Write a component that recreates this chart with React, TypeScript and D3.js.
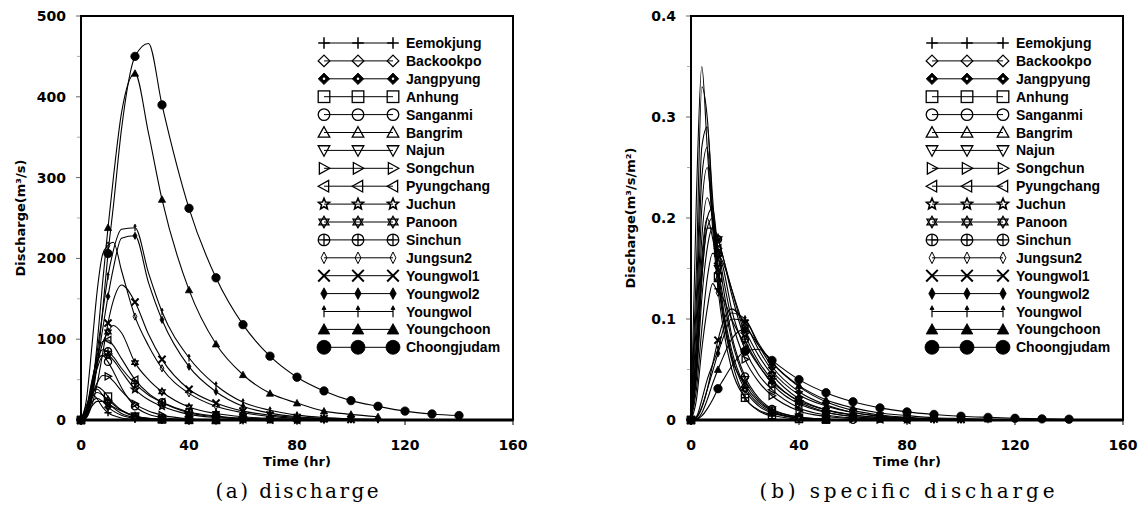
import React, { useEffect, useRef } from "react";
import * as d3 from "d3";

// time grid (hr) shared by every series; a series stops where its array stops
const hours = [0, 2, 4, 6, 8, 10, 12, 15, 20, 25, 30, 40, 50, 60, 70, 80, 90, 100, 110, 120, 130, 140];

const stations = [
  "Eemokjung", "Backookpo", "Jangpyung", "Anhung", "Sanganmi", "Bangrim",
  "Najun", "Songchun", "Pyungchang", "Juchun", "Panoon", "Sinchun",
  "Jungsun2", "Youngwol1", "Youngwol2", "Youngwol", "Youngchoon", "Choongjudam",
];

const markerTypes = [
  "plus", "diamond", "diamondDot", "square", "circle", "triUp",
  "triDown", "triRight", "triLeft", "star5", "star6", "circlePlus",
  "thinDiamond", "cross", "thinDiamondFilled", "arrow", "triUpFilled", "circleFilled",
];

// (a) discharge, m3/s
const qEemokjung = [0, 18, 32, 26, 16, 9, 5.5, 2.5, 0.8, 0.3, 0.1];
const qBackookpo = [0, 14, 32, 38, 31, 22, 15, 8, 3, 1.2, 0.5, 0.1, 0];
const qJangpyung = [0, 9, 22, 27, 23, 16, 11, 6, 2, 0.8, 0.3, 0.05];
const qAnhung = [0, 10, 30, 41, 37, 29, 21, 12, 4, 1.5, 0.6, 0.1, 0];
const qSanganmi = [0, 14, 48, 74, 80, 72, 60, 40, 17, 7, 3, 0.6, 0.1];
const qBangrim = [0, 10, 27, 34, 31, 25, 19, 12, 5, 2, 0.8, 0.1, 0];
const qNajun = [0, 6, 17, 23, 23, 20, 16, 11, 5, 2.2, 1, 0.2, 0.05, 0];
const qSongchun = [0, 8, 29, 46, 55, 54, 48, 36, 20, 11, 6, 1.6, 0.5, 0.1];
const qPyungchang = [0, 12, 45, 80, 97, 99, 92, 76, 50, 33, 22, 9, 4, 1.5, 0.6, 0.2];
const qJuchun = [0, 10, 38, 64, 79, 80, 74, 60, 38, 25, 17, 7, 3, 1.2, 0.5, 0.2];
const qPanoon = [0, 8, 35, 68, 95, 109, 117, 108, 71, 50, 35, 16, 8, 4, 2, 1, 0.4];
const qSinchun = [0, 12, 45, 74, 87, 85, 78, 64, 45, 31, 22, 10, 5, 2.3, 1, 0.5];
const qJungsun2 = [0, 25, 90, 160, 205, 216, 220, 185, 128, 92, 64, 33, 17, 9, 4.5, 2.2, 1.1, 0.5];
const qYoungwol1 = [0, 3, 18, 45, 82, 120, 148, 167, 146, 106, 75, 38, 21, 11, 6, 3, 1.6, 0.8];
const qYoungwol2 = [0, 5, 30, 70, 112, 153, 188, 225, 228, 170, 124, 66, 35, 17, 8.5, 4, 2, 1, 0.5];
const qYoungwol = [0, 6, 38, 85, 132, 178, 210, 236, 238, 182, 134, 77, 43, 22, 12, 6, 3, 1.5, 0.8];
const qYoungchoon = [0, 5, 35, 95, 170, 238, 300, 380, 429, 355, 273, 161, 94, 56, 33, 21, 11, 7, 4];
const qChoongjudam = [0, 3, 25, 70, 135, 206, 265, 360, 450, 466, 390, 262, 176, 118, 79, 53, 36, 24, 17, 11, 7.5, 5.5];

// (b) specific discharge
const sEemokjung = [0, 0.22, 0.35, 0.27, 0.19, 0.13, 0.09, 0.051, 0.022, 0.009, 0.004];
const sBackookpo = [0, 0.15, 0.33, 0.3, 0.22, 0.155, 0.11, 0.07, 0.033, 0.016, 0.008, 0.002, 0.0005];
const sJangpyung = [0, 0.12, 0.27, 0.29, 0.21, 0.146, 0.105, 0.065, 0.03, 0.014, 0.007, 0.002, 0.0004];
const sAnhung = [0, 0.1, 0.24, 0.27, 0.2, 0.142, 0.1, 0.06, 0.022, 0.01, 0.005, 0.001, 0.0003];
const sSanganmi = [0, 0.07, 0.18, 0.22, 0.2, 0.164, 0.13, 0.085, 0.043, 0.022, 0.011, 0.003, 0.001, 0.0003];
const sBangrim = [0, 0.08, 0.21, 0.25, 0.2, 0.14, 0.1, 0.062, 0.035, 0.018, 0.009, 0.002, 0.0005];
const sNajun = [0, 0.06, 0.16, 0.2, 0.18, 0.15, 0.12, 0.08, 0.04, 0.02, 0.01, 0.003, 0.001];
const sSongchun = [0, 0.05, 0.14, 0.19, 0.2, 0.17, 0.14, 0.1, 0.06, 0.038, 0.024, 0.009, 0.0035, 0.0013, 0.0005];
const sPyungchang = [0, 0.05, 0.15, 0.2, 0.21, 0.17, 0.15, 0.11, 0.07, 0.045, 0.03, 0.012, 0.005, 0.002, 0.0008, 0.0003];
const sJuchun = [0, 0.04, 0.12, 0.17, 0.19, 0.18, 0.16, 0.13, 0.085, 0.058, 0.04, 0.018, 0.008, 0.0035, 0.0015, 0.0006];
const sPanoon = [0, 0.03, 0.09, 0.14, 0.165, 0.164, 0.155, 0.13, 0.09, 0.064, 0.045, 0.021, 0.01, 0.005, 0.0025, 0.0012, 0.0006];
const sSinchun = [0, 0.05, 0.14, 0.19, 0.19, 0.179, 0.16, 0.125, 0.08, 0.055, 0.036, 0.016, 0.0075, 0.0035, 0.0016, 0.0008];
const sJungsun2 = [0, 0.02, 0.07, 0.11, 0.135, 0.126, 0.12, 0.1, 0.075, 0.054, 0.038, 0.019, 0.01, 0.005, 0.0025, 0.0013, 0.0006, 0.0003];
const sYoungwol1 = [0, 0.002, 0.012, 0.03, 0.055, 0.079, 0.098, 0.11, 0.096, 0.07, 0.049, 0.025, 0.014, 0.0075, 0.004, 0.002, 0.001, 0.0005];
const sYoungwol2 = [0, 0.003, 0.013, 0.03, 0.048, 0.066, 0.082, 0.1, 0.098, 0.074, 0.053, 0.028, 0.015, 0.0074, 0.0036, 0.0017, 0.0009, 0.0004];
const sYoungwol = [0, 0.003, 0.02, 0.04, 0.055, 0.07, 0.09, 0.106, 0.1, 0.076, 0.057, 0.033, 0.018, 0.0095, 0.005, 0.0026, 0.0013, 0.0006, 0.0003];
const sYoungchoon = [0, 0.001, 0.007, 0.02, 0.036, 0.05, 0.063, 0.08, 0.09, 0.074, 0.057, 0.034, 0.02, 0.012, 0.007, 0.0044, 0.0023, 0.0015, 0.0008];
const sChoongjudam = [0, 0.0005, 0.004, 0.011, 0.02, 0.031, 0.04, 0.053, 0.068, 0.07, 0.059, 0.04, 0.027, 0.018, 0.012, 0.008, 0.0055, 0.0037, 0.0026, 0.0017, 0.0011, 0.0008];

const dischargeSeries = [
  qEemokjung, qBackookpo, qJangpyung, qAnhung, qSanganmi, qBangrim, qNajun, qSongchun, qPyungchang,
  qJuchun, qPanoon, qSinchun, qJungsun2, qYoungwol1, qYoungwol2, qYoungwol, qYoungchoon, qChoongjudam,
];
const specificSeries = [
  sEemokjung, sBackookpo, sJangpyung, sAnhung, sSanganmi, sBangrim, sNajun, sSongchun, sPyungchang,
  sJuchun, sPanoon, sSinchun, sJungsun2, sYoungwol1, sYoungwol2, sYoungwol, sYoungchoon, sChoongjudam,
];

const xTicks = [0, 40, 80, 120, 160];
const dischargeTicks = [0, 100, 200, 300, 400, 500];
const specificTicks = [0, 0.1, 0.2, 0.3, 0.4];

const FONT = "'DejaVu Sans', Arial, sans-serif";
const LEGEND_FONT = "'Liberation Sans', Arial, sans-serif";

// draw one marker symbol centred at (x, y), r = half size
function drawMarker(parent, type, x, y, r) {
  const m = parent.append("g").attr("transform", `translate(${x},${y})`);
  const open = (s) => s.attr("fill", "none").attr("stroke", "#000").attr("stroke-width", 1.3);
  const solid = (s) => s.attr("fill", "#000").attr("stroke", "#000").attr("stroke-width", 0.8);
  const poly = (pts) => "M" + pts.map((p) => p.join(",")).join("L") + "Z";

  switch (type) {
    case "plus":
      m.append("path").attr("d", `M${-r},0H${r}M0,${-r}V${r}`).attr("stroke", "#000").attr("stroke-width", 1.5);
      break;
    case "diamond":
      open(m.append("path").attr("d", poly([[0, -r], [r, 0], [0, r], [-r, 0]])));
      break;
    case "diamondDot":
      solid(m.append("path").attr("d", poly([[0, -r], [r, 0], [0, r], [-r, 0]])));
      m.append("circle").attr("r", r * 0.22).attr("fill", "#fff");
      break;
    case "square":
      open(m.append("rect").attr("x", -r).attr("y", -r).attr("width", 2 * r).attr("height", 2 * r));
      break;
    case "circle":
      open(m.append("circle").attr("r", r));
      break;
    case "triUp":
      open(m.append("path").attr("d", poly([[0, -r], [r, r * 0.8], [-r, r * 0.8]])));
      break;
    case "triDown":
      open(m.append("path").attr("d", poly([[0, r], [r, -r * 0.8], [-r, -r * 0.8]])));
      break;
    case "triRight":
      open(m.append("path").attr("d", poly([[r, 0], [-r * 0.8, -r], [-r * 0.8, r]])));
      break;
    case "triLeft":
      open(m.append("path").attr("d", poly([[-r, 0], [r * 0.8, -r], [r * 0.8, r]])));
      break;
    case "star5": {
      const pts = d3.range(10).map((i) => {
        const a = -Math.PI / 2 + (i * Math.PI) / 5;
        const rr = i % 2 === 0 ? r : r * 0.45;
        return [rr * Math.cos(a), rr * Math.sin(a)];
      });
      open(m.append("path").attr("d", poly(pts))).attr("stroke-width", 1.6);
      break;
    }
    case "star6": {
      const tri = (off) =>
        d3.range(3).map((i) => {
          const a = off + (i * 2 * Math.PI) / 3;
          return [r * Math.cos(a), r * Math.sin(a)];
        });
      open(m.append("path").attr("d", poly(tri(-Math.PI / 2)) + poly(tri(Math.PI / 2))));
      break;
    }
    case "circlePlus":
      open(m.append("circle").attr("r", r));
      m.append("path").attr("d", `M${-r},0H${r}M0,${-r}V${r}`).attr("stroke", "#000").attr("stroke-width", 1.3);
      break;
    case "thinDiamond":
      open(m.append("path").attr("d", poly([[0, -r], [r * 0.5, 0], [0, r], [-r * 0.5, 0]]))).attr("stroke-width", 1);
      break;
    case "cross":
      m.append("path").attr("d", `M${-r},${-r}L${r},${r}M${-r},${r}L${r},${-r}`).attr("stroke", "#000").attr("stroke-width", 2);
      break;
    case "thinDiamondFilled":
      solid(m.append("path").attr("d", poly([[0, -r], [r * 0.55, 0], [0, r], [-r * 0.55, 0]])));
      break;
    case "arrow":
      m.append("path").attr("d", `M0,${r}V${-r * 0.6}`).attr("stroke", "#000").attr("stroke-width", 1.2);
      solid(m.append("path").attr("d", poly([[0, -r], [r * 0.35, -r * 0.35], [-r * 0.35, -r * 0.35]])));
      break;
    case "triUpFilled":
      solid(m.append("path").attr("d", poly([[0, -r], [r, r * 0.8], [-r, r * 0.8]])));
      break;
    case "circleFilled":
      solid(m.append("circle").attr("r", r));
      break;
    default:
      break;
  }
}

const drawPanel = (svg, opt) => {
  const { left, right, top, bottom, yMax, yTicks, yFormat, series, yLabel, legendX, textX, caption, captionLen } = opt;

  const x = d3.scaleLinear().domain([0, 160]).range([left, right]);
  const y = d3.scaleLinear().domain([0, yMax]).range([bottom, top]);
  const g = svg.append("g");

  // minor + major y ticks
  const step = yTicks[1] - yTicks[0];
  yTicks.slice(0, -1).forEach((t) => {
    g.append("line").attr("x1", left - 4).attr("x2", left).attr("y1", y(t + step / 2)).attr("y2", y(t + step / 2))
      .attr("stroke", "#aaa").attr("stroke-width", 1);
  });
  yTicks.forEach((t) => {
    g.append("line").attr("x1", left - 5).attr("x2", left).attr("y1", y(t)).attr("y2", y(t))
      .attr("stroke", "#666").attr("stroke-width", 1);
    g.append("text").attr("x", left - 15).attr("y", y(t) + 5).attr("text-anchor", "end")
      .style("font-family", FONT).style("font-weight", "bold").style("font-size", "14px")
      .text(yFormat(t));
  });
  xTicks.forEach((t) => {
    g.append("line").attr("x1", x(t)).attr("x2", x(t)).attr("y1", bottom).attr("y2", bottom + 5)
      .attr("stroke", "#000").attr("stroke-width", 1);
    g.append("text").attr("x", x(t)).attr("y", bottom + 30).attr("text-anchor", "middle")
      .style("font-family", FONT).style("font-weight", "bold").style("font-size", "14px")
      .text(t);
  });

  // curves
  const line = d3.line().x((d) => x(d[0])).y((d) => y(d[1])).curve(d3.curveMonotoneX);
  series.forEach((vals) => {
    const pts = vals.map((v, i) => [hours[i], v]);
    g.append("path").attr("d", line(pts)).attr("fill", "none").attr("stroke", "#000").attr("stroke-width", 1.1);
  });
  series.forEach((vals, k) => {
    vals.forEach((v, i) => {
      if (hours[i] % 10 !== 0) return;
      drawMarker(g, markerTypes[k], x(hours[i]), y(v), markerTypes[k] === "circleFilled" ? 4.2 : 3.6);
    });
  });

  // frame
  g.append("rect").attr("x", left).attr("y", top).attr("width", right - left).attr("height", bottom - top)
    .attr("fill", "none").attr("stroke", "#000").attr("stroke-width", 2);
  g.append("line").attr("x1", left).attr("x2", right).attr("y1", bottom).attr("y2", bottom)
    .attr("stroke", "#000").attr("stroke-width", 3);

  // legend
  stations.forEach((name, i) => {
    const ly = 43 + i * 17.9;
    g.append("line").attr("x1", legendX[0]).attr("x2", legendX[2]).attr("y1", ly).attr("y2", ly)
      .attr("stroke", "#000").attr("stroke-width", 1);
    legendX.forEach((lx) => drawMarker(g, markerTypes[i], lx, ly, markerTypes[i] === "circleFilled" ? 7 : 5.8));
    g.append("text").attr("x", textX).attr("y", ly + 5)
      .style("font-family", LEGEND_FONT).style("font-weight", "bold").style("font-size", "14px")
      .text(name);
  });

  // axis titles
  g.append("text").attr("x", (left + right) / 2).attr("y", bottom + 46).attr("text-anchor", "middle")
    .style("font-family", FONT).style("font-weight", "bold").style("font-size", "13px")
    .text("Time (hr)");
  g.append("text").attr("transform", `translate(${left - 56},${(top + bottom) / 2}) rotate(-90)`)
    .attr("text-anchor", "middle")
    .style("font-family", FONT).style("font-weight", "bold").style("font-size", "13px")
    .text(yLabel);

  g.append("text").attr("x", (left + right) / 2).attr("y", 498).attr("text-anchor", "middle")
    .attr("textLength", captionLen).attr("lengthAdjust", "spacing")
    .style("font-family", "'DejaVu Serif', serif").style("font-size", "20px")
    .text(caption);
};

const App = () => {
  const svgRef = useRef(null);

  useEffect(() => {
    const svg = d3.select(svgRef.current);
    svg.selectAll("*").remove();

    drawPanel(svg, {
      left: 81, right: 513, top: 16, bottom: 420,
      yMax: 500, yTicks: dischargeTicks, yFormat: (d) => String(d),
      series: dischargeSeries, yLabel: "Discharge(m³/s)",
      legendX: [324, 358, 393], textX: 406,
      caption: "(a)  discharge", captionLen: 163,
    });
    drawPanel(svg, {
      left: 691, right: 1123, top: 16, bottom: 420,
      yMax: 0.4, yTicks: specificTicks, yFormat: (d) => (d === 0 ? "0" : d3.format(".1f")(d)),
      series: specificSeries, yLabel: "Discharge(m³/s/m²)",
      legendX: [932, 967, 1003], textX: 1016,
      caption: "(b)  specific discharge", captionLen: 295,
    });
  }, []);

  return (
    <svg
      ref={svgRef}
      width={1144}
      height={511}
      style={{ position: "absolute", left: 0, top: 0, background: "#fff" }}
    ></svg>
  );
};

export default App;
